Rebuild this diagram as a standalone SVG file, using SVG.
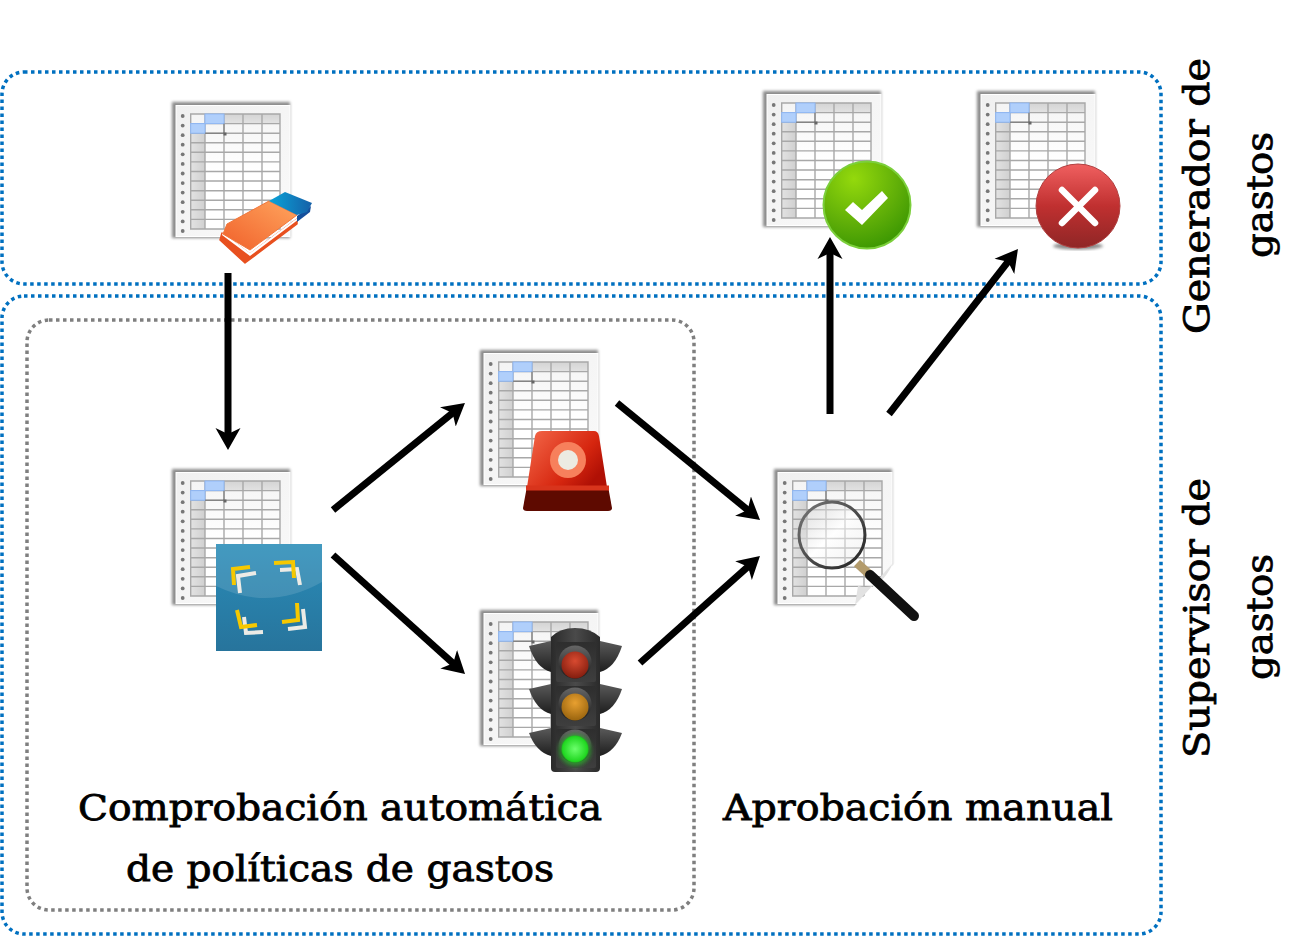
<svg xmlns="http://www.w3.org/2000/svg" xmlns:xlink="http://www.w3.org/1999/xlink" width="1303" height="937" viewBox="0 0 1303 937">
<style>
.blue{fill:none;stroke:#0070c0;stroke-width:3.5;stroke-dasharray:3.5 3.5}
.gray{fill:none;stroke:#7f7f7f;stroke-width:3.5;stroke-dasharray:3.5 3.5}
.lbl{font-family:"DejaVu Serif","Liberation Serif",serif;font-size:35px;fill:#000;stroke:#000;stroke-width:.8}
.arrow{fill:none;stroke:#000;stroke-width:7;marker-end:url(#head)}
</style>
<defs>
<marker id="head" markerUnits="userSpaceOnUse" viewBox="-22 -13 22 26" markerWidth="22" markerHeight="26" refX="-10" refY="0" orient="auto"><path d="M0 0L-22-12.500L-16 0L-22 12.500Z" fill="#000"/></marker>
<filter id="soft" x="-10%" y="-10%" width="120%" height="120%"><feGaussianBlur stdDeviation="1.500"/></filter>
<filter id="soft2" x="-30%" y="-30%" width="160%" height="160%"><feGaussianBlur stdDeviation="2"/></filter>
<filter id="tiny" x="-5%" y="-5%" width="110%" height="110%"><feGaussianBlur stdDeviation=".35"/></filter>
<linearGradient id="page" x1="0" y1="0" x2="1" y2="1"><stop offset="0" stop-color="#f0f0f0"/><stop offset="1" stop-color="#fafafa"/></linearGradient>
<linearGradient id="hdr" x1="0" y1="0" x2="0" y2="1"><stop offset="0" stop-color="#d4d4d4"/><stop offset="1" stop-color="#e2e2e2"/></linearGradient>
<linearGradient id="hdl" x1="0" y1="0" x2="1" y2="0"><stop offset="0" stop-color="#e2e2e2"/><stop offset="1" stop-color="#d0d0d0"/></linearGradient>
<linearGradient id="cells" x1="0" y1="0" x2="0" y2="1"><stop offset="0" stop-color="#f4f4f4"/><stop offset=".5" stop-color="#ffffff"/></linearGradient>
<radialGradient id="gr" cx=".35" cy=".2" r=".95"><stop offset="0" stop-color="#94d90c"/><stop offset=".55" stop-color="#5fae08"/><stop offset="1" stop-color="#2f8f00"/></radialGradient>
<linearGradient id="rd" x1="0" y1="0" x2="0" y2="1"><stop offset="0" stop-color="#f06060"/><stop offset=".5" stop-color="#c03030"/><stop offset="1" stop-color="#8f2626"/></linearGradient>
<linearGradient id="sq" x1="0" y1="0" x2="0" y2="1"><stop offset="0" stop-color="#2a8cb8"/><stop offset="1" stop-color="#27749c"/></linearGradient>
<linearGradient id="al" x1="0" y1="0" x2="1" y2=".6"><stop offset="0" stop-color="#f4694a"/><stop offset=".7" stop-color="#d6260f"/><stop offset="1" stop-color="#b01005"/></linearGradient>
<linearGradient id="er" x1="0" y1="1" x2="1" y2="0"><stop offset="0" stop-color="#f0602a"/><stop offset="1" stop-color="#ffa55e"/></linearGradient>
<linearGradient id="eb" x1="0" y1="0" x2="1" y2="0"><stop offset="0" stop-color="#0aa4d8"/><stop offset="1" stop-color="#1560a8"/></linearGradient>
<linearGradient id="tl" x1="0" y1="0" x2="1" y2="0"><stop offset="0" stop-color="#2a2a2a"/><stop offset=".5" stop-color="#4a4a4a"/><stop offset="1" stop-color="#2a2a2a"/></linearGradient>
<linearGradient id="wing" x1="0" y1="0" x2="0" y2="1"><stop offset="0" stop-color="#5a5a5a"/><stop offset="1" stop-color="#1e1e1e"/></linearGradient>
<linearGradient id="box" x1="0" y1="0" x2="0" y2="1"><stop offset="0" stop-color="#2e2e2e"/><stop offset="1" stop-color="#3e3e3e"/></linearGradient>
<linearGradient id="hood" x1="0" y1="0" x2="0" y2="1"><stop offset="0" stop-color="#666"/><stop offset="1" stop-color="#1a1a1a"/></linearGradient>
<radialGradient id="lr" cx=".5" cy=".35" r=".7"><stop offset="0" stop-color="#d84a30"/><stop offset="1" stop-color="#7d1a0c"/></radialGradient>
<radialGradient id="ly" cx=".5" cy=".35" r=".7"><stop offset="0" stop-color="#e8a030"/><stop offset="1" stop-color="#94600c"/></radialGradient>
<radialGradient id="lg" cx=".5" cy=".5" r=".6"><stop offset="0" stop-color="#6cff6c"/><stop offset=".75" stop-color="#22d822"/><stop offset="1" stop-color="#1a7a1a"/></radialGradient>
<linearGradient id="glass" x1="0" y1="0" x2="1" y2="1"><stop offset="0" stop-color="#bbb" stop-opacity=".45"/><stop offset=".5" stop-color="#fff" stop-opacity=".55"/><stop offset="1" stop-color="#ddd" stop-opacity=".3"/></linearGradient>
<linearGradient id="ring" x1="0" y1="0" x2="1" y2="1"><stop offset="0" stop-color="#777"/><stop offset="1" stop-color="#222"/></linearGradient>
<g id="sheet">
<rect x="0" y="0" width="118" height="136" fill="#8a8a8a" filter="url(#soft)"/>
<rect x="4" y="3.500" width="114" height="131" fill="url(#page)" stroke="#fff"/>
<g filter="url(#tiny)">
<g fill="#777"><circle cx="10.700" cy="14" r="1.900"/><circle cx="10.700" cy="23.600" r="1.900"/><circle cx="10.700" cy="33.200" r="1.900"/><circle cx="10.700" cy="42.700" r="1.900"/><circle cx="10.700" cy="52.300" r="1.900"/><circle cx="10.700" cy="61.900" r="1.900"/><circle cx="10.700" cy="71.500" r="1.900"/><circle cx="10.700" cy="81.100" r="1.900"/><circle cx="10.700" cy="90.600" r="1.900"/><circle cx="10.700" cy="100.200" r="1.900"/><circle cx="10.700" cy="109.800" r="1.900"/><circle cx="10.700" cy="119.400" r="1.900"/><circle cx="10.700" cy="129" r="1.900"/></g>
<rect x="18.700" y="12" width="89.300" height="115" fill="url(#cells)"/>
<rect x="52" y="12" width="56" height="9.600" fill="url(#hdr)"/>
<rect x="18.700" y="31" width="14.300" height="96" fill="url(#hdl)"/>
<path d="M18.700 12H108V127H18.700ZM33 12V127M52 12V127M71 12V127M90 12V127M18.700 21.600H108M18.700 31.200H108M18.700 40.800H108M18.700 50.300H108M18.700 59.900H108M18.700 69.500H108M18.700 79H108M18.700 88.700H108M18.700 98.200H108M18.700 107.800H108M18.700 117.400H108" fill="none" stroke="#a8a8a8" stroke-width="1.400"/>
<rect x="33" y="12" width="19" height="9.600" fill="#b0cffb" stroke="#8fb8f5"/>
<rect x="18.700" y="21.600" width="14.300" height="9.600" fill="#b0cffb" stroke="#8fb8f5"/>
<path d="M33 31.200H52V21.600" fill="none" stroke="#666" stroke-width=".8"/>
<rect x="51.500" y="30.500" width="3" height="3" fill="#666"/>
</g>
</g>
</defs>
<rect width="1303" height="937" fill="#fff"/>
<g id="regions">
<rect class="blue" x="2" y="72" width="1159" height="212" rx="22"/>
<rect class="blue" x="2" y="296" width="1159" height="638" rx="22"/>
<rect class="gray" x="27" y="320" width="667" height="590" rx="22"/>
</g>
<g id="node-borrador">
<use xlink:href="#sheet" href="#sheet" x="172" y="102"/>
<path d="M220 240L222 233L250 254L297 219L297 224L245 263Z" fill="#e8501f" stroke="#e8501f" stroke-linejoin="round" stroke-width="1.500"/>
<path d="M222 235L250 256L307 213L307 211L250 253L223 233Z" fill="#fff"/>
<path d="M297 222L310 212L311 206L297 216Z" fill="#154f9c"/>
<path d="M227 224L269 201L297 215L250 250L223 234Z" fill="url(#er)" stroke="#f0763a" stroke-linejoin="round"/>
<path d="M269 201L285 192L312 203L307 212L297 215Z" fill="url(#eb)"/>
</g>
<g id="node-aprobado">
<use xlink:href="#sheet" href="#sheet" x="763" y="91"/>
<circle cx="867" cy="205" r="43.500" fill="url(#gr)" stroke="#7ccf3c" stroke-width="2"/>
<path d="M845 210L853 202L862 210L882 191L888 198L862 225Z" fill="#fff"/>
</g>
<g id="node-rechazado">
<use xlink:href="#sheet" href="#sheet" x="977" y="91"/>
<ellipse cx="1078" cy="246" rx="25" ry="3.500" fill="#888" filter="url(#soft)"/>
<circle cx="1078" cy="206" r="42" fill="url(#rd)" stroke="#b04040"/>
<path d="M1062 190L1095 223M1095 190L1062 223" stroke="#fff" stroke-width="6.500" stroke-linecap="round"/>
</g>
<g id="node-escaneo">
<use xlink:href="#sheet" href="#sheet" x="172" y="469"/>
<rect x="216" y="544" width="106" height="107" fill="url(#sq)"/>
<path d="M216 544H322V582Q269 612 216 586Z" fill="#fff" opacity=".12"/>
<g fill="none" stroke-width="4">
<path stroke="#ecebe6" d="M256 573L238 576L240 593M280 570L297 569L300 585M244 617L246 633L263 632M303 609L305 627L288 629"/>
<path stroke="#f6c800" d="M250 567L233 569L234 585M274 563L293 562L294 578M237 610L241 627L257 625M297 603L298 620L282 622"/>
</g>
</g>
<g id="node-alarma">
<use xlink:href="#sheet" href="#sheet" x="480" y="350"/>
<path d="M542 431H594Q598 431 599 436L607 487H527L535 436Q536 431 542 431Z" fill="url(#al)"/>
<circle cx="568" cy="460" r="18" fill="#f7805c"/>
<circle cx="568" cy="460" r="10" fill="#ecebe2"/>
<path d="M527 486H608L612 508Q612 511 608 511H527Q523 511 523 508Z" fill="#5e0a00"/>
<rect x="526" y="485.500" width="83" height="5" fill="#d8341c"/>
</g>
<g id="node-semaforo">
<use xlink:href="#sheet" href="#sheet" x="480" y="610"/>
<g fill="url(#wing)">
<path d="M529 646L551 641V672Q536 668 529 646Z"/>
<path d="M622 646L600 641V672Q615 668 622 646Z"/>
<path d="M529 689L551 684V714Q536 710 529 689Z"/>
<path d="M622 689L600 684V714Q615 710 622 689Z"/>
<path d="M529 733L551 728V756Q536 752 529 733Z"/>
<path d="M622 733L600 728V756Q615 752 622 733Z"/>
</g>
<path d="M551 637Q560 628 575 628Q590 628 600 637V768Q600 772 596 772H555Q551 772 551 768Z" fill="url(#tl)"/>
<rect x="556" y="642" width="40" height="40" rx="2" fill="url(#box)"/>
<rect x="556" y="686" width="40" height="40" rx="2" fill="url(#box)"/>
<rect x="556" y="729" width="40" height="39" rx="2" fill="url(#box)"/>
<circle cx="575" cy="662" r="16.500" fill="url(#hood)"/>
<circle cx="575" cy="704" r="16.500" fill="url(#hood)"/>
<circle cx="575" cy="746" r="16.500" fill="url(#hood)"/>
<circle cx="575" cy="665" r="13.500" fill="url(#lr)"/>
<circle cx="575" cy="707" r="13.500" fill="url(#ly)"/>
<circle cx="575" cy="750" r="16" fill="#2ac92a" opacity=".6" filter="url(#soft2)"/>
<circle cx="575" cy="749" r="13.500" fill="url(#lg)"/>
</g>
<g id="node-revision">
<use xlink:href="#sheet" href="#sheet" x="774" y="469"/>
<path d="M895 563V608H853Z" fill="#fff"/>
<path d="M893 563L855 605L858 586Q880 592 893 563Z" fill="#e2e2e2"/>
<circle cx="832" cy="535" r="33" fill="url(#glass)" stroke="url(#ring)" stroke-width="3"/>
<path d="M857 563L869 574" stroke="#b39b6c" stroke-width="9"/>
<path d="M870 575L914 616" stroke="#111" stroke-width="10" stroke-linecap="round"/>
</g>
<g id="connectors">
<path class="arrow" d="M228 273L228 440"/>
<path class="arrow" d="M333 510L457.200 409.300"/>
<path class="arrow" d="M333 555L457.600 667.300"/>
<path class="arrow" d="M617 403L752.300 513.700"/>
<path class="arrow" d="M640 663L752.500 562.700"/>
<path class="arrow" d="M830 414L830 247"/>
<path class="arrow" d="M889 414L1011.800 256.900"/>
</g>
<g id="labels">
<text class="lbl" x="340" y="820" text-anchor="middle" textLength="524" lengthAdjust="spacingAndGlyphs">Comprobación automática</text>
<text class="lbl" x="340" y="881" text-anchor="middle" textLength="428" lengthAdjust="spacingAndGlyphs">de políticas de gastos</text>
<text class="lbl" x="918" y="820" text-anchor="middle" textLength="390" lengthAdjust="spacingAndGlyphs">Aprobación manual</text>
<text class="lbl" transform="translate(1209 196) rotate(-90)" text-anchor="middle" textLength="276" lengthAdjust="spacingAndGlyphs">Generador de</text>
<text class="lbl" transform="translate(1272 195) rotate(-90)" text-anchor="middle" textLength="126" lengthAdjust="spacingAndGlyphs">gastos</text>
<text class="lbl" transform="translate(1209 618) rotate(-90)" text-anchor="middle" textLength="280" lengthAdjust="spacingAndGlyphs">Supervisor de</text>
<text class="lbl" transform="translate(1272 617) rotate(-90)" text-anchor="middle" textLength="126" lengthAdjust="spacingAndGlyphs">gastos</text>
</g>
</svg>
